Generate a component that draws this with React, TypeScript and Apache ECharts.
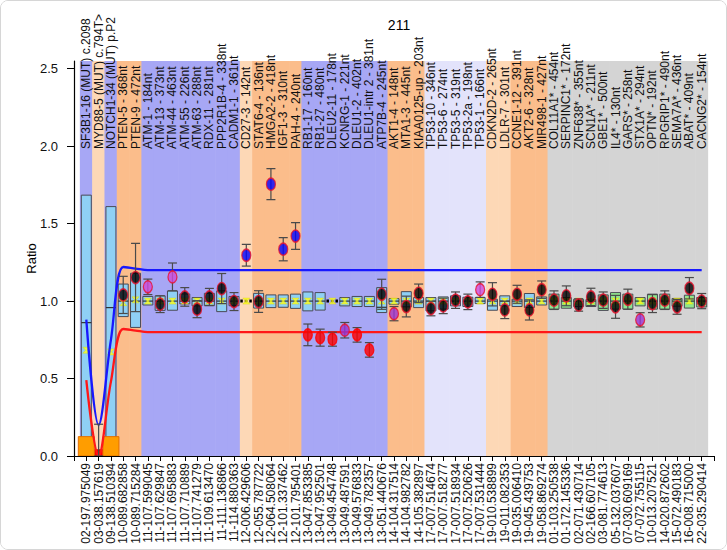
import React, { useEffect, useRef } from "react";
import * as echarts from "echarts";

const titleText = "211";
const yTickValues = [0, 0.5, 1, 1.5, 2, 2.5];

const bottomLabels = [
  "02-197.975049", "03-038.157619", "09-138.510394", "10-089.682858", "10-089.715284",
  "11-107.599045", "11-107.629847", "11-107.695883", "11-107.710889", "11-107.741279",
  "11-109.613470", "11-111.136866", "11-114.880363", "12-006.429606", "12-055.787722",
  "12-064.508064", "12-101.337462", "12-101.795401", "13-047.853385", "13-047.952501",
  "13-049.454748", "13-049.487591", "13-049.576833", "13-049.782357", "13-051.440676",
  "14-104.317514", "14-104.982782", "14-105.382897", "17-007.514674", "17-007.518277",
  "17-007.518934", "17-007.520626", "17-007.531444", "19-010.538899", "19-011.082353",
  "19-035.006410", "19-045.439753", "19-058.869274", "01-103.250538", "01-172.145336",
  "02-071.430714", "02-166.607105", "03-081.774613", "05-132.037607", "07-030.609169",
  "07-072.755115", "10-013.207521", "14-020.872602", "15-072.490183", "16-008.715000",
  "22-035.290414",
];

const topLabels = [
  "SF3B1-16 (MUT) c.2098", "MYD88-5 (MUT) c.794T>", "NOTCH1-34 (MUT) p.P2", "PTEN-5 - 368nt", "PTEN-9 - 472nt",
  "ATM-1 - 184nt", "ATM-13 - 373nt", "ATM-44 - 463nt", "ATM-55 - 226nt", "ATM-63 - 288nt",
  "RDX-11 - 281nt", "PPP2R1B-4 - 338nt", "CADM1-1 - 361nt", "CD27-3 - 142nt", "STAT6-4 - 136nt",
  "HMGA2-2 - 418nt", "IGF1-3 - 310nt", "PAH-4 - 240nt", "RB1-17 - 160nt", "RB1-27 - 480nt",
  "DLEU2-11 - 178nt", "KCNRG-1 - 221nt", "DLEU1-2 - 402nt", "DLEU1-intr 2 - 381nt", "ATP7B-4 - 245nt",
  "AKT1-4 - 148nt", "MTA1-3 - 445nt", "KIAA0125-up - 203nt", "TP53-10 - 346nt", "TP53-6 - 274nt",
  "TP53-5 - 319nt", "TP53-2a - 198nt", "TP53-1 - 166nt", "CDKN2D-2 - 265nt", "LDLR-7 - 301nt",
  "CCNE1-12 - 391nt", "AKT2-6 - 328nt", "MIR498-1 - 427nt", "COL11A1* - 454nt", "SERPINC1* - 172nt",
  "ZNF638* - 355nt", "SCN1A* - 211nt", "GBE1* - 500nt", "IL4* - 130nt", "GARS* - 258nt",
  "STX1A* - 294nt", "OPTN* - 192nt", "RPGRIP1* - 490nt", "SEMA7A* - 436nt", "ABAT* - 409nt",
  "CACNG2* - 154nt",
];

// background band group per category: B blue, P light peach, O orange, L light lavender, G gray
const bandGroups = [
  "B", "P", "B", "O", "O",
  "B", "B", "B", "B", "B",
  "B", "B", "B", "P", "O",
  "O", "O", "O", "B", "B",
  "B", "B", "B", "B", "B",
  "O", "O", "O", "L", "L",
  "L", "L", "L", "P", "P",
  "O", "O", "O", "G", "G",
  "G", "G", "G", "G", "G",
  "G", "G", "G", "G", "G",
  "G",
];

// reference boxes (null = none)
const boxLow = [
  0, null, 0, 0.9, 0.83,
  0.975, 0.94, 0.941, 0.982, 0.969,
  0.97, 0.932, 0.97, 1.0, 0.955,
  0.958, 0.96, 0.953, 0.937, 0.942,
  1.0, 0.969, 0.965, 0.965, 0.926,
  0.98, 0.963, 0.958, 0.937, 0.948,
  0.969, 0.965, 0.984, 0.941, 0.969,
  0.965, 0.958, 0.975, 0.948, 0.954,
  0.965, 0.965, 0.94, 0.948, 0.948,
  0.969, 0.948, 0.948, 0.967, 0.955,
  0.962,
];
const boxHigh = [
  1.684, null, 1.61, 1.11, 1.18,
  1.03, 1.034, 1.066, 1.046, 1.023,
  1.05, 1.066, 1.03, 1.0, 1.05,
  1.04, 1.04, 1.045, 1.059, 1.055,
  1.0, 1.023, 1.03, 1.03, 1.087,
  1.016, 1.061, 1.023, 1.023, 1.027,
  1.034, 1.025, 1.023, 1.012, 1.034,
  1.012, 1.049, 1.027, 1.045, 1.023,
  1.012, 1.01, 1.04, 1.055, 1.045,
  1.023, 1.045, 1.045, 1.017, 1.038,
  1.023,
];
const boxMid = [
  0.861, null, 0.958, 1.0, 1.0,
  1.0, 1.0, 1.0, 1.0, 1.0,
  1.0, 1.0, 1.0, 1.0, 1.0,
  1.0, 1.0, 1.0, 1.0, 1.0,
  1.0, 1.0, 1.0, 1.0, 0.96,
  1.0, 1.0, 1.0, 1.0, 1.0,
  1.0, 1.0, 1.0, 1.0, 1.0,
  1.0, 1.0, 1.0, 1.0, 1.0,
  1.0, 1.0, 1.0, 1.0, 1.0,
  1.0, 1.0, 1.0, 1.0, 1.0,
  1.0,
];
const meanStars = [
  0.683, null, 0.672, 0.99, 1.008,
  1.0, 1.0, 1.0, 1.0, 1.0,
  1.0, 1.0, 1.0, 1.0, 1.0,
  1.0, 1.0, 1.0, 1.0, 1.0,
  1.0, 1.0, 1.0, 1.0, 1.0,
  1.0, 1.0, 1.0, 1.0, 1.0,
  1.0, 1.0, 1.0, 1.0, 1.0,
  1.0, 1.0, 1.0, 1.0, 1.0,
  1.0, 1.0, 1.0, 1.0, 1.0,
  1.0, 1.0, 1.0, 1.0, 1.0,
  1.0,
];

// sample ratios and their error (±)
const sampleRatio = [
  null, null, null, 1.04, 1.152,
  1.092, 0.98, 1.156, 1.027, 0.948,
  1.027, 1.081, 0.997, 1.296, 0.997,
  1.755, 1.335, 1.42, 0.782, 0.764,
  0.754, 0.812, 0.782, 0.685, 1.044,
  0.919, 0.965, 1.05, 0.952, 0.969,
  1.006, 0.995, 1.074, 1.044, 0.943,
  1.044, 0.943, 1.074, 1.006, 1.034,
  0.975, 1.027, 1.006, 0.963, 1.012,
  0.879, 0.984, 1.006, 0.963, 1.083,
  1.0,
];
const sampleErr = [
  null, null, null, 0.12, 0.22,
  0.05, 0.054, 0.09, 0.06, 0.055,
  0.055, 0.097, 0.058, 0.07, 0.07,
  0.1, 0.075, 0.086, 0.07, 0.055,
  0.045, 0.05, 0.047, 0.047, 0.097,
  0.046, 0.067, 0.06, 0.047, 0.05,
  0.053, 0.05, 0.05, 0.075, 0.056,
  0.058, 0.065, 0.056, 0.06, 0.064,
  0.04, 0.056, 0.053, 0.074, 0.065,
  0.046, 0.058, 0.06, 0.048, 0.069,
  0.049,
];
// k normal, b gain, r loss, m / p borderline
const sampleKind = [
  "", "", "", "k", "k",
  "m", "k", "m", "k", "k",
  "k", "k", "k", "b", "k",
  "b", "b", "b", "r", "r",
  "r", "p", "r", "r", "k",
  "p", "k", "k", "k", "k",
  "k", "k", "m", "k", "k",
  "k", "k", "k", "k", "k",
  "k", "k", "k", "k", "k",
  "p", "k", "k", "k", "k",
  "k",
];

// mutation whisker without a sample point
const extraWhiskerCat = [2];
const extraWhiskerLow = [0];
const extraWhiskerHigh = [0.205];

// mutation bars at the bottom
const mutBarCat = [2, 1, 3];
const mutBarVal = [0.04, 0.125, 0.125];
const mutBarKind = ["red", "orange", "orange"];

// thresholds
const upperThreshold = [
  0.88, 0.2, 0.75, 1.22, 1.21,
  1.2, 1.2, 1.2, 1.2, 1.2,
  1.2, 1.2, 1.2, 1.2, 1.2,
  1.2, 1.2, 1.2, 1.2, 1.2,
  1.2, 1.2, 1.2, 1.2, 1.2,
  1.2, 1.2, 1.2, 1.2, 1.2,
  1.2, 1.2, 1.2, 1.2, 1.2,
  1.2, 1.2, 1.2, 1.2, 1.2,
  1.2, 1.2, 1.2, 1.2, 1.2,
  1.2, 1.2, 1.2, 1.2, 1.2,
  1.2,
];
const lowerThreshold = [
  0.49, 0.0, 0.48, 0.82, 0.81,
  0.8, 0.8, 0.8, 0.8, 0.8,
  0.8, 0.8, 0.8, 0.8, 0.8,
  0.8, 0.8, 0.8, 0.8, 0.8,
  0.8, 0.8, 0.8, 0.8, 0.8,
  0.8, 0.8, 0.8, 0.8, 0.8,
  0.8, 0.8, 0.8, 0.8, 0.8,
  0.8, 0.8, 0.8, 0.8, 0.8,
  0.8, 0.8, 0.8, 0.8, 0.8,
  0.8, 0.8, 0.8, 0.8, 0.8,
  0.8,
];

const Y_MAX = 2.55;
const FONT = "'Liberation Sans', Arial, Helvetica, sans-serif";

const BAND_COLORS: Record<string, string> = {
  B: "#a7a7f5",
  P: "#fdd8b6",
  O: "#fbbd8b",
  L: "#e3e3fb",
  G: "#d4d4d4",
};
const DOT_FILL: Record<string, string> = {
  k: "#000000",
  b: "#0000ff",
  r: "#ff0000",
  m: "#d048d8",
  p: "#9b32d2",
};
const BAR_FILL: Record<string, string> = { red: "#ff0000", orange: "#ff9d00" };

export default function App() {
  const ref = useRef<HTMLDivElement>(null);

  useEffect(() => {
    if (!ref.current) return;
    const chart = echarts.init(ref.current, null, { renderer: "svg" });

    const xBottom = ["", ...bottomLabels, ""];
    const xTop = ["", ...topLabels, ""];
    const pos = (i: number) => i + 1;

    const bandData = bandGroups.map((g, i) => [pos(i), Y_MAX]);

    const boxIdx: number[] = [];
    const boxData: number[][] = [];
    boxLow.forEach((lo, i) => {
      if (lo === null || boxHigh[i] === null) return;
      boxIdx.push(i);
      boxData.push([pos(i), lo as number, boxHigh[i] as number, (boxMid[i] ?? lo) as number]);
    });

    const starData = meanStars
      .map((v, i) => (v === null ? null : [pos(i), v]))
      .filter((d) => d !== null);

    const errData: number[][] = [];
    sampleRatio.forEach((v, i) => {
      if (v === null || sampleErr[i] === null) return;
      errData.push([pos(i), v - (sampleErr[i] as number), v + (sampleErr[i] as number)]);
    });
    extraWhiskerCat.forEach((c, j) => {
      errData.push([c, extraWhiskerLow[j], extraWhiskerHigh[j]]);
    });

    const dotData: any[] = [];
    sampleRatio.forEach((v, i) => {
      if (v === null) return;
      const k = sampleKind[i];
      dotData.push({
        value: [pos(i), v],
        itemStyle: {
          color: DOT_FILL[k],
          borderColor: k === "r" ? "#ff0000" : "#e8102a",
          borderWidth: 1.4,
        },
      });
    });

    const barData = mutBarCat.map((c, j) => [c, mutBarVal[j]]);

    const upperData = upperThreshold.map((v, i) => [pos(i), v]);
    const lowerData = lowerThreshold.map((v, i) => [pos(i), v]);

    const option: any = {
      animation: false,
      backgroundColor: "#ffffff",
      textStyle: { fontFamily: FONT },
      title: {
        text: titleText,
        left: 393,
        top: 12,
        textAlign: "center",
        textStyle: { fontSize: 14, fontWeight: "normal", color: "#000", fontFamily: FONT },
      },
      grid: { left: 73, top: 60, width: 640, height: 395, containLabel: false },
      xAxis: [
        {
          type: "category",
          data: xBottom,
          boundaryGap: false,
          position: "bottom",
          z: 10,
          axisLine: { show: true, lineStyle: { color: "#000", width: 1.2 } },
          axisTick: { show: true, length: 5, interval: 0, lineStyle: { color: "#000" } },
          axisLabel: {
            rotate: 90,
            interval: 0,
            fontSize: 12,
            color: "#111",
            margin: 7,
            fontFamily: FONT,
          },
          splitLine: { show: false },
        },
        {
          type: "category",
          data: xTop,
          boundaryGap: false,
          position: "top",
          offset: -90,
          z: 10,
          axisLine: { show: false },
          axisTick: { show: false },
          axisLabel: {
            rotate: -90,
            interval: 0,
            fontSize: 12,
            color: "#111",
            margin: 2,
            fontFamily: FONT,
          },
          splitLine: { show: false },
        },
      ],
      yAxis: {
        type: "value",
        min: 0,
        max: Y_MAX,
        interval: 0.5,
        z: 10,
        name: "Ratio",
        nameLocation: "middle",
        nameGap: 36,
        nameMoveOverlap: false,
        nameTextStyle: { fontSize: 13, color: "#000", fontFamily: FONT },
        axisLine: { show: true, lineStyle: { color: "#000", width: 1.2 } },
        axisTick: { show: true, length: 7, customValues: yTickValues, lineStyle: { color: "#000" } },
        axisLabel: {
          customValues: yTickValues,
          margin: 16,
          fontSize: 13,
          color: "#111",
          fontFamily: FONT,
          formatter: (v: number) =>
            Math.abs(v * 2 - Math.round(v * 2)) < 1e-6 ? v.toFixed(1) : "",
        },
        splitLine: { show: false },
      },
      series: [
        {
          type: "custom",
          name: "bands",
          z: 1,
          silent: true,
          data: bandData,
          encode: { x: 0, y: 1 },
          renderItem: (params: any, api: any) => {
            const i = params.dataIndex;
            const w = api.size([1, 0])[0];
            const p0 = api.coord([api.value(0), Y_MAX]);
            const p1 = api.coord([api.value(0), 0]);
            return {
              type: "rect",
              shape: { x: p0[0] - w / 2 - 0.3, y: p0[1], width: w + 0.6, height: p1[1] - p0[1] },
              style: { fill: BAND_COLORS[bandGroups[i]] },
            };
          },
        },
        {
          type: "custom",
          name: "boxes",
          z: 2,
          silent: true,
          data: boxData,
          encode: { x: 0, y: [1, 2] },
          renderItem: (params: any, api: any) => {
            const catIndex = boxIdx[params.dataIndex];
            const x = api.value(0);
            const lo = api.coord([x, api.value(1)]);
            const hi = api.coord([x, api.value(2)]);
            const md = api.coord([x, api.value(3)]);
            const cx = lo[0];
            if (Math.abs(api.value(2) - api.value(1)) < 1e-6) {
              return {
                type: "line",
                shape: { x1: cx - 6, y1: lo[1], x2: cx + 6, y2: lo[1] },
                style: { stroke: "#000", lineWidth: 3, lineDash: [2.5, 2] },
              };
            }
            const fill = bandGroups[catIndex] === "G" ? "#8fe68f" : "#8fd0f5";
            return {
              type: "group",
              children: [
                {
                  type: "rect",
                  shape: { x: cx - 5, y: hi[1], width: 10, height: lo[1] - hi[1] },
                  style: { fill, stroke: "#4a4a55", lineWidth: 1 },
                },
                {
                  type: "line",
                  shape: { x1: cx - 5, y1: md[1], x2: cx + 5, y2: md[1] },
                  style: { stroke: "#333", lineWidth: 1.2 },
                },
              ],
            };
          },
        },
        {
          type: "custom",
          name: "mutation bars",
          z: 3,
          silent: true,
          data: barData,
          encode: { x: 0, y: 1 },
          renderItem: (params: any, api: any) => {
            const j = params.dataIndex;
            const x = api.value(0);
            const top = api.coord([x, api.value(1)]);
            const bot = api.coord([x, 0]);
            const kind = mutBarKind[j];
            return {
              type: "rect",
              shape: { x: top[0] - 8, y: top[1], width: 16, height: bot[1] - top[1] },
              style: {
                fill: BAR_FILL[kind],
                stroke: kind === "orange" ? "#e46f00" : "#cc0000",
                lineWidth: 1,
              },
            };
          },
        },
        {
          type: "scatter",
          name: "mean",
          z: 4,
          silent: true,
          data: starData,
          symbol: "path://M0,0 L10,0 L6,5 L10,10 L0,10 L4,5 Z",
          symbolSize: [7, 6],
          itemStyle: { color: "#ffff1a", borderColor: "#d8d800", borderWidth: 0.5 },
        },
        {
          type: "line",
          name: "upper",
          z: 5,
          silent: true,
          data: upperData,
          smooth: 0.35,
          symbol: "none",
          lineStyle: { color: "#1818ff", width: 2.3 },
        },
        {
          type: "line",
          name: "lower",
          z: 5,
          silent: true,
          data: lowerData,
          smooth: 0.35,
          symbol: "none",
          lineStyle: { color: "#ff1818", width: 2.3 },
        },
        {
          type: "custom",
          name: "errors",
          z: 6,
          silent: true,
          data: errData,
          encode: { x: 0, y: [1, 2] },
          renderItem: (params: any, api: any) => {
            const x = api.value(0);
            const lo = api.coord([x, api.value(1)]);
            const hi = api.coord([x, api.value(2)]);
            const cx = lo[0];
            const st = { stroke: "#4a4a4a", lineWidth: 1.2 };
            return {
              type: "group",
              children: [
                { type: "line", shape: { x1: cx, y1: lo[1], x2: cx, y2: hi[1] }, style: st },
                { type: "line", shape: { x1: cx - 4.5, y1: hi[1], x2: cx + 4.5, y2: hi[1] }, style: st },
                { type: "line", shape: { x1: cx - 4.5, y1: lo[1], x2: cx + 4.5, y2: lo[1] }, style: st },
              ],
            };
          },
        },
        {
          type: "scatter",
          name: "sample",
          z: 7,
          silent: true,
          data: dotData,
          symbol: "circle",
          symbolSize: [9, 12],
        },
      ],
    };

    chart.setOption(option);
    return () => chart.dispose();
  }, []);

  return (
    <div
      style={{
        position: "fixed",
        left: 0,
        top: 0,
        width: 727,
        height: 550,
        boxSizing: "border-box",
        border: "1px solid #d6d6d6",
        borderRadius: 8,
        overflow: "hidden",
        background: "#fff",
      }}
    >
      <div ref={ref} style={{ width: 725, height: 548 }} />
    </div>
  );
}
